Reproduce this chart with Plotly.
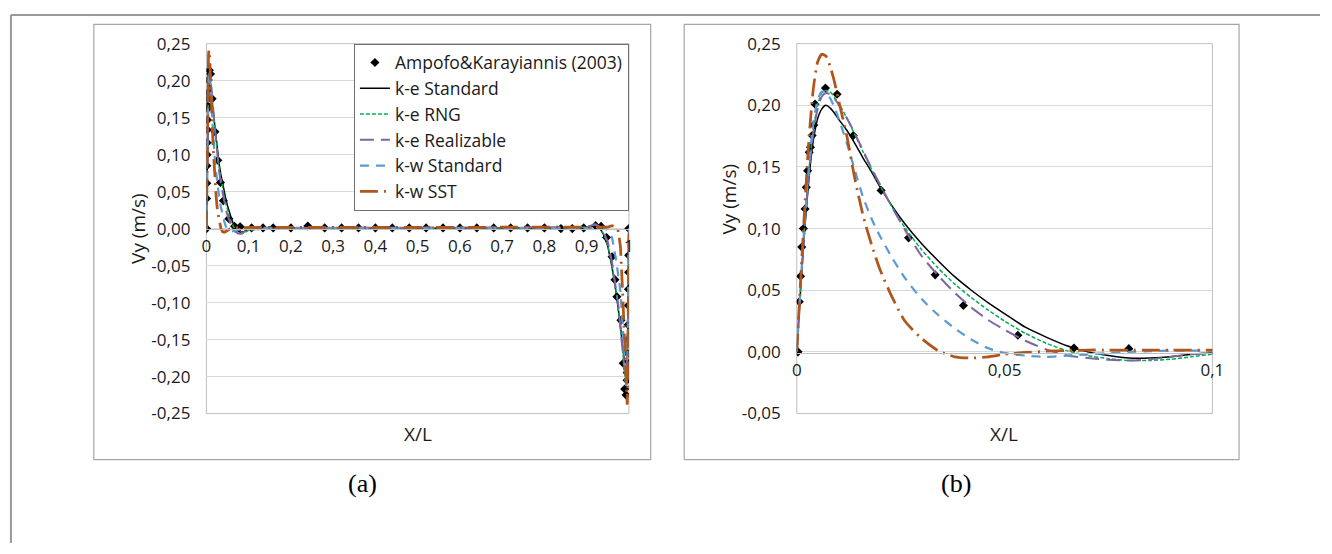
import plotly.graph_objects as go

W, H = 1332, 554

# ---------------- data ----------------
# Experimental profile (Ampofo & Karayiannis, 2003)
exp_x = [0.0003, 0.0006, 0.0009, 0.0012, 0.0016, 0.0020, 0.0023, 0.0026, 0.0030, 0.0033,
         0.0037, 0.0041, 0.0044, 0.0069, 0.0097, 0.0136, 0.0203, 0.0269, 0.0333, 0.0401,
         0.0532, 0.0667, 0.0799,
         0.107, 0.134, 0.158, 0.200, 0.240, 0.280, 0.320, 0.360, 0.400, 0.440,
         0.480, 0.520, 0.560, 0.600, 0.640, 0.680, 0.720, 0.760, 0.800, 0.839,
         0.866, 0.893, 0.921, 0.934,
         0.947, 0.960, 0.967, 0.9715, 0.981, 0.9865, 0.990, 0.993, 0.9955, 0.996,
         0.9964, 0.9968, 0.9972, 0.9976, 0.998, 0.9984, 0.9988, 0.9991, 0.9994, 0.9997]
exp_v = [0.000, 0.0407, 0.0614, 0.085, 0.100, 0.116, 0.1335, 0.147, 0.162, 0.166,
         0.1755, 0.184, 0.201, 0.214, 0.209, 0.1755, 0.131, 0.0925, 0.0625, 0.0376,
         0.0135, 0.0031, 0.0026,
         0.001, 0.001, 0.001, 0.001, 0.0035, 0.001, 0.001, 0.001, 0.001, 0.001,
         0.001, 0.001, 0.001, 0.001, 0.001, 0.001, 0.001, 0.001, 0.001, 0.000,
         0.000, 0.001, 0.004, 0.003,
         -0.012, -0.038, -0.069, -0.092, -0.124, -0.182, -0.217, -0.225, -0.205, -0.195,
         -0.189, -0.181, -0.169, -0.150, -0.130, -0.104, -0.082, -0.059, -0.036, 0.000]

# Common X/L grid of the CFD profiles
x_cfd = [0.000, 0.001, 0.002, 0.003, 0.004, 0.005, 0.006, 0.007, 0.008, 0.009,
         0.010, 0.012, 0.014, 0.016, 0.018, 0.020, 0.023, 0.026, 0.030, 0.034,
         0.038, 0.042, 0.046, 0.050, 0.055, 0.060, 0.065, 0.070, 0.075, 0.080,
         0.085, 0.090, 0.095, 0.100,
         0.15, 0.20, 0.25, 0.30, 0.35, 0.40, 0.45, 0.50, 0.55, 0.60, 0.65, 0.70, 0.75, 0.80, 0.85,
         0.900, 0.920, 0.930, 0.940, 0.950, 0.960, 0.970, 0.975, 0.980, 0.985,
         0.990, 0.992, 0.994, 0.996, 0.997, 0.998, 0.999, 1.000]

ke_standard = [0.000, 0.055, 0.103, 0.143, 0.172, 0.189, 0.197, 0.200, 0.198, 0.194,
               0.189, 0.180, 0.169, 0.157, 0.146, 0.134, 0.118, 0.104, 0.088, 0.074,
               0.061, 0.050, 0.040, 0.031, 0.020, 0.012, 0.005, 0.000, -0.003, -0.005,
               -0.005, -0.004, -0.002, -0.001,
               -0.001, 0.0, 0.0, 0.0, 0.0, 0.0, 0.0, 0.0, 0.0, 0.0, 0.0, 0.0, 0.0, 0.0, 0.001,
               0.002, 0.004, 0.002, -0.008, -0.024, -0.052, -0.088, -0.108, -0.132, -0.160,
               -0.187, -0.196, -0.200, -0.176, -0.146, -0.104, -0.056, 0.000]

ke_rng = [0.000, 0.057, 0.108, 0.150, 0.181, 0.200, 0.210, 0.212, 0.211, 0.207,
          0.202, 0.190, 0.176, 0.162, 0.148, 0.135, 0.117, 0.101, 0.083, 0.068,
          0.055, 0.044, 0.034, 0.025, 0.015, 0.007, 0.001, -0.003, -0.0055, -0.007,
          -0.007, -0.006, -0.004, -0.002,
          0.0, 0.0, 0.0, 0.0, 0.0, 0.0, 0.0, 0.0, 0.0, 0.0, 0.0, 0.0, 0.0, 0.0, 0.001,
          0.002, 0.005, 0.002, -0.007, -0.022, -0.050, -0.086, -0.108, -0.134, -0.164,
          -0.198, -0.208, -0.212, -0.186, -0.152, -0.109, -0.058, 0.000]

ke_realizable = [0.000, 0.056, 0.106, 0.148, 0.178, 0.197, 0.207, 0.210, 0.209, 0.206,
                 0.201, 0.190, 0.177, 0.163, 0.149, 0.136, 0.117, 0.099, 0.078, 0.062,
                 0.048, 0.036, 0.026, 0.018, 0.009, 0.002, -0.003, -0.005, -0.0065, -0.007,
                 -0.006, -0.004, -0.002, -0.001,
                 0.0, 0.001, 0.001, 0.001, 0.001, 0.001, 0.001, 0.001, 0.001, 0.001, 0.001, 0.001, 0.001, 0.001, 0.001,
                 0.002, 0.006, 0.003, -0.005, -0.018, -0.045, -0.082, -0.104, -0.134, -0.164,
                 -0.197, -0.206, -0.210, -0.183, -0.150, -0.107, -0.057, 0.000]

kw_standard = [0.000, 0.058, 0.110, 0.154, 0.186, 0.204, 0.211, 0.211, 0.206, 0.199,
               0.190, 0.170, 0.147, 0.125, 0.108, 0.094, 0.076, 0.060, 0.043, 0.030,
               0.019, 0.010, 0.003, -0.001, -0.003, -0.004, -0.003, -0.002, -0.001, 0.000,
               0.0005, 0.001, 0.001, 0.001,
               0.001, 0.001, 0.0, 0.0, 0.0, 0.0, 0.0, 0.0, 0.0, 0.0, 0.0, 0.0, 0.0, 0.0, 0.0,
               0.000, 0.001, 0.002, 0.002, -0.003, -0.012, -0.044, -0.062, -0.085, -0.130,
               -0.180, -0.200, -0.212, -0.190, -0.155, -0.111, -0.058, 0.000]

kw_sst = [0.000, 0.062, 0.122, 0.176, 0.214, 0.235, 0.2415, 0.240, 0.232, 0.220,
          0.205, 0.176, 0.140, 0.110, 0.087, 0.067, 0.044, 0.025, 0.011, 0.001,
          -0.004, -0.005, -0.004, -0.002, -0.0005, 0.0005, 0.001, 0.0015, 0.0015, 0.0015,
          0.0015, 0.0015, 0.0015, 0.0015,
          0.0015, 0.0015, 0.0015, 0.0015, 0.0015, 0.0015, 0.0015, 0.0015, 0.0015, 0.0015,
          0.0015, 0.0015, 0.0015, 0.0015, 0.0015,
          0.0015, 0.001, 0.001, 0.001, 0.002, 0.004, 0.002, -0.004, -0.025, -0.085,
          -0.160, -0.200, -0.228, -0.238, -0.215, -0.160, -0.085, 0.000]

series_names = ["k-e Standard", "k-e RNG", "k-e Realizable", "k-w Standard", "k-w SST"]
series_values = [ke_standard, ke_rng, ke_realizable, kw_standard, kw_sst]
series_colors = ["#000000", "#00b050", "#8064a2", "#5b9bd5", "#b0561a"]
series_dashes = ["solid", "4px,2px", "14px,7px", "9px,7px", "18px,6px,2px,6px"]
series_widths = [1.5, 1.5, 2.0, 2.25, 2.75]

# Axis ticks
ticks_x_a = [0, 0.1, 0.2, 0.3, 0.4, 0.5, 0.6, 0.7, 0.8, 0.9, 1.0]
labels_x_a = ["0", "0,1", "0,2", "0,3", "0,4", "0,5", "0,6", "0,7", "0,8", "0,9", "1"]
ticks_y_a = [-0.25, -0.20, -0.15, -0.10, -0.05, 0.0, 0.05, 0.10, 0.15, 0.20, 0.25]
labels_y_a = ["-0,25", "-0,20", "-0,15", "-0,10", "-0,05", "0,00", "0,05", "0,10", "0,15", "0,20", "0,25"]
ticks_x_b = [0, 0.05, 0.1]
labels_x_b = ["0", "0,05", "0,1"]
ticks_y_b = [-0.05, 0.0, 0.05, 0.10, 0.15, 0.20, 0.25]
labels_y_b = ["-0,05", "0,00", "0,05", "0,10", "0,15", "0,20", "0,25"]

# ---------------- layout helpers ----------------
def px(x):
    return x / W

def py(y):
    return 1 - y / H

FONT = "'Open Sans', Lato, sans-serif"
TXT = "#1a1a1a"
GRID = "#d9d9d9"
AXIS = "#bfbfbf"

# plot-area rectangles in pixels (left, top, right, bottom)
PA = (204, 33, 632, 419)
PB = (802, 33, 1223, 419)

fig = go.Figure()

# experimental markers
fig.add_trace(go.Scatter(x=exp_x, y=exp_v, mode="markers", name="Ampofo&Karayiannis (2003)",
                         marker=dict(symbol="diamond", size=7, color="#000000"),
                         xaxis="x", yaxis="y", showlegend=True))
fig.add_trace(go.Scatter(x=exp_x, y=exp_v, mode="markers", name="Ampofo&Karayiannis (2003)",
                         marker=dict(symbol="diamond", size=7, color="#000000"),
                         xaxis="x2", yaxis="y2", showlegend=False))

for name, vals, col, dash, w in zip(series_names, series_values, series_colors,
                                    series_dashes, series_widths):
    fig.add_trace(go.Scatter(x=x_cfd, y=vals, mode="lines", name=name,
                             line=dict(color=col, dash=dash, width=w),
                             xaxis="x", yaxis="y", showlegend=True))
    fig.add_trace(go.Scatter(x=x_cfd, y=vals, mode="lines", name=name,
                             line=dict(color=col, dash=dash, width=w, shape="spline", smoothing=0.6),
                             xaxis="x2", yaxis="y2", showlegend=False))

tickfont = dict(family=FONT, size=17, color=TXT)

def xaxis_cfg(p, rng, zero_y, tv, tt):
    return dict(domain=[px(p[0]), px(p[2])], range=rng, anchor="free", position=py(zero_y),
                showline=True, linecolor=AXIS, linewidth=1, showgrid=False, zeroline=False,
                tickmode="array", tickvals=tv, ticktext=tt, ticks="", ticklabelstandoff=2,
                tickfont=tickfont, fixedrange=True)

def yaxis_cfg(p, rng, anchor, tv, tt):
    return dict(domain=[py(p[3]), py(p[1])], range=rng, anchor=anchor,
                showline=False, showgrid=True, gridcolor=GRID, gridwidth=1, zeroline=False,
                tickmode="array", tickvals=tv, ticktext=tt, ticks="", ticklabelstandoff=15,
                tickfont=tickfont, fixedrange=True)

fig.update_layout(
    width=W, height=H,
    margin=dict(l=0, r=0, t=0, b=0),
    paper_bgcolor="white", plot_bgcolor="white",
    xaxis=xaxis_cfg(PA, [0, 1], 226, ticks_x_a, labels_x_a),
    yaxis=yaxis_cfg(PA, [-0.2501, 0.2501], "x", ticks_y_a, labels_y_a),
    xaxis2=xaxis_cfg(PB, [0, 0.1], 355.7, ticks_x_b, labels_x_b),
    yaxis2=yaxis_cfg(PB, [-0.0501, 0.2501], "x2", ticks_y_b, labels_y_b),
    legend=dict(x=px(632), xanchor="right", y=py(33), yanchor="top",
                bgcolor="white", bordercolor="#6f6f6f", borderwidth=1,
                font=dict(family=FONT, size=17.5, color=TXT), tracegroupgap=0,
                itemwidth=30),
    showlegend=True,
)

shapes = []
# outer frame (top and left edges)
shapes.append(dict(type="line", xref="paper", yref="paper", x0=px(6), x1=px(6), y0=py(554), y1=py(3),
                   line=dict(color="#999999", width=2)))
shapes.append(dict(type="line", xref="paper", yref="paper", x0=px(6), x1=1, y0=py(3), y1=py(3),
                   line=dict(color="#999999", width=2)))
# chart frames
for (l, t, r, b) in [(90, 13, 654, 467), (688, 13, 1250, 467)]:
    shapes.append(dict(type="rect", xref="paper", yref="paper", x0=px(l), x1=px(r), y0=py(b), y1=py(t),
                       line=dict(color="#a6a6a6", width=1.2), fillcolor="rgba(0,0,0,0)", layer="below"))
# plot-area borders
for xr, yr in [("x", "y"), ("x2", "y2")]:
    shapes.append(dict(type="rect", xref=xr + " domain", yref=yr + " domain", x0=0, x1=1, y0=0, y1=1,
                       line=dict(color=AXIS, width=1), fillcolor="rgba(0,0,0,0)", layer="below"))
fig.update_layout(shapes=shapes)

title_font = dict(family=FONT, size=19, color=TXT)
cap_font = dict(family="'Liberation Serif', 'Times New Roman', serif", size=26, color="#000000")
annotations = [
    dict(text="Vy (m/s)", x=px(134), y=py(226), textangle=-90, font=title_font),
    dict(text="X/L", x=px(418), y=py(440), font=title_font),
    dict(text="Vy (m/s)", x=px(733), y=py(195), textangle=-90, font=title_font),
    dict(text="X/L", x=px(1012), y=py(440), font=title_font),
    dict(text="(a)", x=px(362), y=py(492), font=cap_font),
    dict(text="(b)", x=px(963), y=py(492), font=cap_font),
]
for a in annotations:
    a.update(xref="paper", yref="paper", showarrow=False, xanchor="center", yanchor="middle")
fig.update_layout(annotations=annotations)

fig.write_html("out.html")
